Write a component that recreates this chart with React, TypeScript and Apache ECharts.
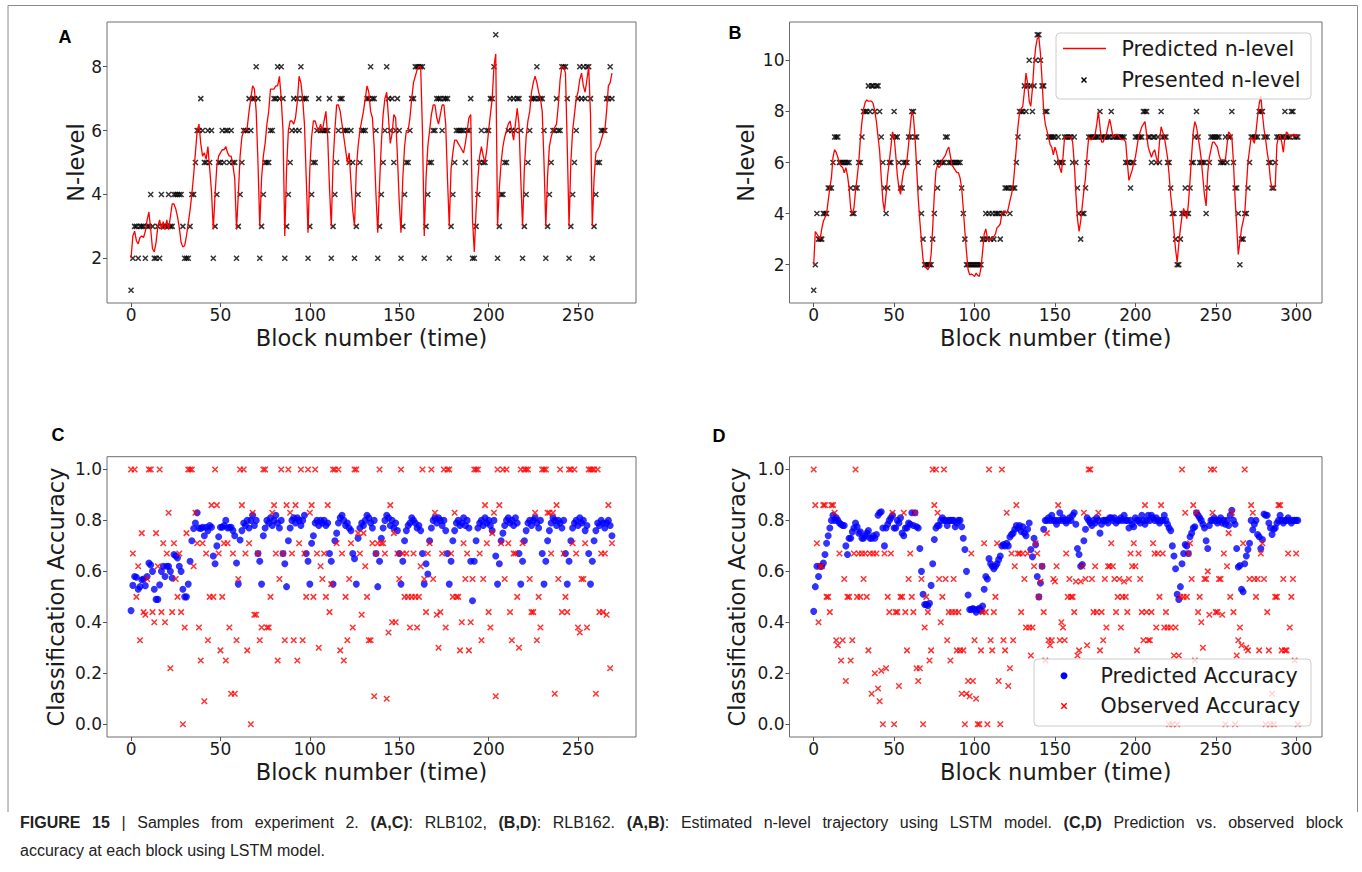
import React, { useEffect, useRef } from "react";
import * as echarts from "echarts";

// ---------- Panel A (RLB102): n-level ----------
const A_presented = [
  1,2,3,3,2,3,3,3,2,3,
  3,4,3,2,2,3,2,4,3,3,
  3,4,3,3,4,4,4,4,4,3,
  2,2,2,3,4,4,5,6,6,7,
  6,5,5,6,5,6,2,3,4,5,
  5,6,5,6,6,5,6,5,5,2,
  3,4,5,6,6,6,7,6,7,7,
  8,7,2,3,4,5,5,5,6,6,
  7,7,8,7,8,7,2,3,4,5,
  6,7,6,7,6,8,7,7,7,2,
  3,4,5,5,6,7,6,6,6,6,
  6,7,2,3,4,5,6,7,7,6,
  6,6,5,6,5,2,3,4,5,6,
  6,6,7,7,8,7,7,6,2,3,
  4,5,6,8,7,6,7,5,6,7,
  6,2,3,4,5,5,6,7,7,8,
  8,8,8,8,2,3,4,5,5,6,
  6,7,7,7,6,7,7,7,2,3,
  4,5,6,6,6,6,6,5,6,6,
  7,2,2,3,4,5,6,5,5,6,
  6,7,7,8,9,2,3,4,4,5,
  5,6,7,6,7,6,7,7,6,2,
  3,4,5,6,7,7,7,8,7,7,
  7,6,2,3,4,5,6,6,7,6,
  6,8,8,8,7,2,3,4,5,6,
  7,8,7,8,7,8,8,7,2,3,
  4,5,5,6,6,6,7,7,8,7,
];
const A_predicted = [
  2.0,2.7,2.85,2.55,2.45,2.65,2.7,2.65,2.85,3.2,
  3.45,2.9,2.3,2.2,2.5,3.0,3.2,2.9,3.15,2.9,
  3.2,2.9,3.3,3.7,3.7,3.55,3.3,2.95,2.5,2.35,
  2.4,2.7,3.1,3.5,4.0,4.6,5.3,6.0,6.2,5.6,
  5.2,5.3,5.1,5.5,4.8,4.1,2.9,4.0,4.9,5.2,
  5.3,5.4,5.4,5.5,5.3,5.2,5.2,4.9,4.5,2.9,
  4.0,5.2,5.8,6.0,6.0,6.1,6.6,7.0,7.4,7.3,
  6.6,5.0,3.0,4.5,5.2,5.6,6.2,6.6,7.3,7.3,
  7.3,7.4,7.4,7.7,7.0,6.0,2.7,4.8,6.0,6.3,
  6.3,6.2,6.4,6.9,7.7,7.5,7.0,6.2,4.5,2.8,
  4.8,5.8,6.3,6.3,6.1,6.0,6.2,6.0,6.3,6.6,
  5.8,4.2,3.0,5.0,6.0,6.8,6.8,6.6,6.2,5.8,
  5.4,5.0,5.3,4.4,3.5,3.0,4.8,5.5,6.0,6.3,
  6.6,7.0,7.4,7.2,6.6,6.4,5.5,4.0,2.8,4.3,
  5.6,6.5,7.0,7.2,6.4,5.6,5.9,6.5,6.4,5.2,
  3.8,2.8,4.5,5.5,6.0,6.0,6.4,7.0,7.5,7.7,
  7.9,8.0,8.0,6.0,2.7,4.5,5.5,6.0,6.5,6.8,
  6.8,6.4,6.2,6.5,6.8,6.8,6.2,4.5,3.0,4.8,
  5.3,5.7,5.7,5.6,5.5,5.4,5.3,5.6,6.0,6.4,
  6.5,3.2,2.2,3.5,4.5,5.2,5.5,5.2,5.0,5.4,
  6.0,6.5,7.0,8.0,8.4,3.0,4.2,5.0,5.5,5.8,
  6.0,6.2,6.3,6.0,5.7,6.2,6.7,6.2,4.5,3.0,
  4.8,5.8,6.3,6.6,7.2,7.5,7.7,7.5,7.2,7.0,
  6.6,5.0,3.0,4.6,5.5,5.8,6.0,6.1,6.2,6.8,
  7.6,8.0,8.0,7.8,5.5,3.0,5.0,6.0,6.5,7.0,
  7.2,7.6,7.8,7.4,7.2,7.6,8.0,6.5,3.0,4.5,
  5.3,5.4,5.5,5.7,5.9,6.0,6.6,7.4,7.5,7.8,
];

// ---------- Panel B (RLB162): n-level ----------
const B_presented = [
  1,2,4,3,3,3,4,4,4,5,
  5,5,6,7,7,7,6,6,6,6,
  6,6,6,5,4,4,5,5,6,6,
  7,8,8,8,9,8,9,9,8,9,
  9,8,7,6,5,4,5,6,6,7,
  8,7,7,6,5,5,6,6,6,7,
  7,8,8,7,7,6,5,4,3,2,
  2,2,2,2,3,4,6,5,6,6,
  6,6,7,7,6,6,6,6,6,6,
  6,6,5,4,3,2,2,2,2,2,
  2,2,2,2,2,3,3,4,3,4,
  3,4,3,4,4,4,3,4,4,5,
  5,5,4,5,5,5,6,7,8,8,
  8,9,8,9,10,9,8,9,10,11,
  11,10,9,9,8,8,7,7,7,7,
  7,6,7,6,6,6,7,7,7,7,
  7,6,7,6,5,4,3,4,4,5,
  6,7,7,7,7,7,7,7,8,7,
  7,7,7,7,7,8,7,7,7,7,
  7,7,7,7,6,6,6,5,6,6,
  7,7,7,7,7,8,8,8,7,7,
  6,7,7,6,7,6,8,7,7,7,
  6,6,5,4,4,3,2,2,3,4,
  4,5,4,4,5,6,6,7,8,7,
  6,6,6,6,4,5,6,7,7,7,
  7,7,7,6,6,6,7,6,7,7,
  8,6,5,5,4,2,3,3,4,4,
  5,6,7,7,7,7,7,8,8,8,
  7,7,7,6,6,5,5,6,7,7,
  7,7,7,8,7,7,7,8,8,7,
  7,7,
];
const B_predicted = [
  2.0,3.3,3.2,3.1,3.0,3.4,3.7,3.85,4.0,4.5,
  5.0,5.4,6.2,6.5,6.4,6.2,6.0,5.85,5.8,5.6,
  5.8,5.5,5.0,4.2,4.0,4.2,4.9,5.4,6.0,6.9,
  7.6,8.1,8.35,8.45,8.4,8.4,8.4,8.3,8.0,7.6,
  7.0,6.45,5.4,4.5,4.1,4.75,5.5,6.05,6.6,7.2,
  7.0,6.3,5.5,5.0,4.75,5.3,5.7,5.8,6.1,6.7,
  7.4,8.0,7.8,7.0,5.8,4.6,3.7,2.9,2.2,1.93,
  1.87,1.8,1.93,2.4,3.45,4.75,5.67,5.9,5.8,5.9,
  6.1,6.2,6.3,6.5,6.6,6.25,5.9,5.8,5.7,5.6,
  5.6,5.4,5.0,4.2,3.3,2.5,1.8,1.6,1.63,1.6,
  1.54,1.67,1.58,1.54,1.87,2.5,3.2,3.4,3.05,2.9,
  3.0,3.05,3.1,3.2,3.45,3.5,3.6,4.0,4.1,4.1,
  4.0,4.2,4.5,4.75,5.1,5.8,6.6,7.4,7.96,8.1,
  8.2,8.8,9.5,9.1,8.4,8.2,8.9,9.86,10.5,10.85,
  10.9,10.25,9.2,8.0,7.5,7.25,7.0,6.7,6.6,6.3,
  6.6,6.4,6.1,5.8,5.6,6.2,7.0,7.0,7.0,7.0,
  7.0,6.8,6.0,4.8,3.8,3.3,3.7,4.3,4.9,5.4,
  6.3,7.0,6.9,6.9,7.0,7.1,7.5,8.0,7.4,6.8,
  6.8,7.0,7.1,7.4,7.7,7.4,7.0,7.0,7.1,7.1,
  7.0,6.9,6.9,6.9,6.8,6.0,5.3,5.5,5.7,6.0,
  6.2,6.6,7.0,7.2,7.4,7.5,7.6,7.1,6.6,6.4,
  6.2,6.4,6.5,6.2,6.0,6.8,7.4,7.2,7.0,6.6,
  6.2,5.5,4.7,4.1,3.3,2.6,2.1,2.8,3.4,3.9,
  4.2,4.0,3.8,4.4,5.3,6.3,7.2,7.6,7.4,7.0,
  6.6,6.1,5.4,4.7,4.3,5.6,6.2,6.5,6.8,6.8,
  6.7,6.6,6.3,6.1,6.1,6.1,6.1,6.7,7.2,7.1,
  7.0,6.0,4.6,3.5,2.4,2.9,3.4,3.7,4.0,5.0,
  6.0,6.5,7.0,6.9,6.75,7.2,7.8,8.3,8.6,7.9,
  7.3,6.9,6.4,6.0,5.3,5.0,5.0,5.1,6.7,7.0,
  7.1,6.8,6.4,7.0,7.2,7.1,7.05,7.0,7.1,7.1,
  7.0,7.1,
];

// ---------- Panel C (RLB102): accuracy ----------
const C_predicted = [
  .446,.545,.58,.577,.53,.54,.567,.57,.544,.58,
  .633,.625,.6,.53,.49,.49,.547,.6,.62,.58,
  .62,.62,.6,.574,.666,.66,.653,.62,.6,.53,
  .5,.5,.55,.64,.72,.768,.79,.83,.77,.768,
  .773,.74,.773,.76,.78,.773,.66,.63,.7,.736,
  .773,.773,.78,.8,.77,.773,.773,.76,.74,.633,
  .55,.723,.76,.79,.78,.8,.77,.8,.82,.78,
  .8,.67,.64,.55,.74,.77,.8,.79,.81,.78,
  .8,.82,.79,.77,.8,.67,.63,.54,.72,.77,
  .8,.81,.79,.81,.8,.78,.8,.82,.67,.64,
  .55,.71,.74,.79,.8,.78,.8,.79,.8,.78,
  .79,.67,.64,.55,.72,.75,.79,.81,.82,.8,
  .78,.79,.77,.76,.67,.65,.55,.73,.77,.79,
  .78,.8,.82,.81,.79,.77,.8,.67,.54,.64,
  .73,.77,.8,.82,.81,.78,.8,.77,.79,.76,
  .67,.55,.64,.72,.76,.78,.79,.81,.8,.79,
  .77,.78,.76,.67,.55,.63,.59,.72,.77,.8,
  .81,.79,.81,.8,.78,.8,.76,.67,.55,.64,
  .72,.76,.79,.8,.78,.79,.81,.78,.8,.77,
  .64,.485,.64,.72,.77,.79,.8,.78,.81,.79,
  .8,.78,.76,.8,.66,.55,.63,.72,.75,.78,
  .8,.81,.79,.8,.78,.81,.79,.67,.55,.64,
  .72,.76,.79,.8,.78,.8,.81,.79,.77,.8,
  .67,.55,.64,.72,.76,.79,.81,.8,.78,.8,
  .79,.77,.8,.67,.55,.64,.72,.77,.79,.8,
  .78,.81,.79,.8,.76,.78,.67,.55,.64,.72,
  .76,.79,.78,.8,.79,.77,.79,.8,.78,.74,
];
const C_observed = [
  1.0,.67,1.0,.5,.62,.33,.75,.44,.43,.57,
  1.0,1.0,.44,.4,.75,.62,1.0,.44,.71,.4,
  .67,.83,.22,.44,.71,.57,.5,.67,.44,0,
  .38,.75,1.0,1.0,1.0,.62,.83,.71,.38,.25,
  .71,.09,.67,.33,.5,.86,.5,1.0,.86,.67,
  .29,.5,.71,.25,.71,.38,.12,.67,.12,.33,
  .57,1.0,.86,1.0,.67,.29,.71,0,.83,.43,
  .43,.67,.33,.38,1.0,1.0,.38,.38,.5,.83,
  .86,.67,.25,.57,1.0,.67,.33,.86,1.0,.83,
  .67,.33,.86,.25,.71,1.0,.33,.67,.5,1.0,
  .83,.86,.5,1.0,.67,.3,.62,.57,.67,.5,
  .86,.44,.55,1.0,1.0,.71,1.0,.29,.67,.25,
  .5,.33,.57,.71,.38,1.0,1.0,.75,.67,.43,
  .75,.62,.5,.33,.33,.71,.11,.67,.71,1.0,
  .71,.71,.67,.1,.36,.86,.4,.75,.4,.67,
  .57,1.0,.67,.5,.67,.5,.38,.5,.67,.5,
  .38,.5,.62,1.0,.57,.44,.67,.71,1.0,.57,
  .83,.43,.3,.44,.67,1.0,.38,1.0,1.0,.67,
  .5,.83,.5,.5,.29,.4,.71,.57,.67,.29,
  .4,.57,1.0,1.0,1.0,.67,.33,.57,.86,.71,
  .44,.38,.75,.83,.11,1.0,.86,.71,1.0,.57,
  1.0,.71,.44,.33,.67,.67,.5,.3,1.0,.71,
  1.0,1.0,1.0,.57,.44,.44,.83,.33,.5,.38,
  1.0,1.0,1.0,.83,.83,.67,.83,.12,.86,.57,
  1.0,.44,.67,.5,.44,1.0,1.0,.71,1.0,.67,
  .38,.36,.57,.57,.71,.38,1.0,1.0,1.0,1.0,
  .12,1.0,.44,.67,.44,.67,.43,.86,.22,.71,
];

// ---------- Panel D (RLB162): accuracy ----------
const D_predicted = [
  .443,.54,.62,.58,.62,.62,.633,.666,.71,.74,
  .77,.8,.82,.8,.81,.8,.79,.785,.78,.78,
  .7,.666,.73,.73,.755,.77,.79,.775,.75,.755,
  .73,.73,.74,.75,.76,.73,.73,.74,.73,.745,
  .82,.83,.834,.77,.7,.77,.785,.8,.81,.82,
  .77,.77,.8,.79,.81,.75,.74,.77,.77,.79,
  .785,.83,.78,.83,.775,.77,.69,.6,.51,.47,
  .47,.465,.475,.545,.63,.725,.77,.78,.78,.8,
  .81,.8,.8,.78,.8,.8,.8,.8,.775,.79,
  .8,.8,.775,.73,.686,.6,.507,.45,.45,.454,
  .45,.44,.45,.455,.446,.464,.53,.58,.57,.65,
  .63,.62,.61,.62,.63,.646,.66,.7,.705,.7,
  .71,.7,.735,.745,.75,.765,.78,.77,.78,.757,
  .775,.75,.74,.765,.79,.686,.657,.73,.705,.58,
  .5,.554,.62,.765,.8,.8,.81,.8,.82,.8,
  .8,.785,.8,.83,.8,.81,.8,.79,.8,.81,
  .8,.82,.83,.785,.69,.666,.62,.627,.72,.765,
  .81,.8,.79,.78,.8,.79,.81,.8,.75,.785,
  .8,.8,.8,.79,.81,.81,.8,.81,.79,.8,
  .8,.81,.8,.82,.8,.8,.77,.8,.785,.775,
  .81,.8,.8,.79,.82,.8,.785,.8,.82,.8,
  .82,.81,.8,.81,.8,.79,.8,.8,.82,.8,
  .785,.77,.76,.7,.66,.61,.51,.49,.54,.63,
  .67,.705,.7,.67,.736,.75,.77,.775,.83,.82,
  .81,.8,.785,.77,.72,.69,.78,.8,.8,.81,
  .8,.79,.8,.81,.79,.8,.785,.8,.78,.82,
  .84,.8,.785,.69,.617,.623,.53,.52,.63,.66,
  .686,.71,.8,.763,.785,.8,.745,.736,.69,.725,
  .825,.82,.82,.79,.77,.745,.765,.77,.79,.8,
  .82,.8,.79,.8,.8,.81,.8,.79,.8,.8,
  .8,.8,
];
const D_observed = [
  1.0,.86,.71,.4,.62,.62,.86,.86,.5,.5,
  .44,.86,.86,.83,.33,.31,.67,.25,.33,.57,
  .17,.5,.5,.25,.33,.67,1.0,.5,.67,.5,
  .67,.57,.67,.5,.29,.67,.12,.67,.2,.67,
  .14,.09,.21,0,.67,.22,.5,.44,.67,.83,
  0,.44,.44,.15,.5,.5,.83,.44,.29,.57,
  .67,.5,.44,.83,.22,.17,.22,.57,0,.38,
  .5,.44,.25,.29,1.0,.86,1.0,.83,.57,.4,
  .5,1.0,.57,.33,.44,.25,.44,.57,.44,.29,
  .44,.29,.12,.29,0,.12,.17,.11,.67,.17,
  .33,.1,0,0,.29,.44,.71,.44,0,1.0,
  .33,.29,.44,.5,.71,.17,0,1.0,.33,.29,
  .83,.15,.22,.67,.33,.62,.86,.67,.67,.44,
  .67,.57,.38,.67,.38,.27,.38,.62,.71,.67,
  .5,.56,.62,.44,.25,.75,.33,.31,.33,.57,
  .56,.62,.86,.33,.4,.38,.33,.67,.5,.57,
  .5,.5,.44,.56,.27,.29,.56,.62,.83,.57,
  .31,1.0,1.0,.57,.44,.62,.44,.83,.29,.44,
  .33,.57,.38,.62,.62,.71,.62,.57,.44,.5,
  .57,.38,.5,.56,.5,.44,.57,.67,.62,.71,
  .62,.29,.67,.57,.44,.33,.86,.44,.33,.33,
  .44,.71,.67,.38,.67,.5,.86,.67,.38,.44,
  .38,0,.38,0,.27,.38,0,.27,.5,1.0,
  .5,.83,.5,.67,.71,.57,.86,.25,.83,.44,
  .5,.4,.3,.57,.57,.6,.43,1.0,.83,1.0,
  .44,.44,.57,.57,.43,.67,0,.62,.75,.5,
  .83,.44,0,.27,.33,.38,.31,.71,1.0,.3,
  .29,.57,.86,.83,.57,.5,.57,.29,.67,.71,
  .57,0,.44,.29,0,.12,0,.5,.5,.86,
  .86,.29,.57,.29,.29,.67,.38,.5,.57,.25,
  .67,0,
];

// ---------- Ticks & labels ----------
const xTicksAC = [0, 50, 100, 150, 200, 250];
const xTicksBD = [0, 50, 100, 150, 200, 250, 300];
const yTicksA = [2, 4, 6, 8];
const yTicksB = [2, 4, 6, 8, 10];
const yTicksAcc = [0, 0.2, 0.4, 0.6, 0.8, 1.0];
const panelLetters = ["A", "B", "C", "D"];
const xTitle = "Block number (time)";
const yTitleN = "N-level";
const yTitleAcc = "Classification Accuracy";
const legendB = ["Predicted n-level", "Presented n-level"];
const legendD = ["Predicted Accuracy", "Observed Accuracy"];
// caption words: [text, bold?] segments per word; line 1 is justified
const captionLine1Words: [string, boolean][][] = [
  [["FIGURE", true]], [["15", true]], [["|", false]], [["Samples", false]], [["from", false]],
  [["experiment", false]], [["2.", false]], [["(A,C)", true], [":", false]], [["RLB102,", false]],
  [["(B,D)", true], [":", false]], [["RLB162.", false]], [["(A,B)", true], [":", false]],
  [["Estimated", false]], [["n-level", false]], [["trajectory", false]], [["using", false]],
  [["LSTM", false]], [["model.", false]], [["(C,D)", true]], [["Prediction", false]],
  [["vs.", false]], [["observed", false]], [["block", false]],
];
const captionLine2 = "accuracy at each block using LSTM model.";

const X_SYMBOL = "path://M0,0L10,10M10,0L0,10";
const TICK_FONT = "DejaVu Sans";
const CAP_FONT = "Liberation Sans";
const CAP_SIZE = 16;
const pts = (arr: number[]) => arr.map((v, i) => [i, v]);

function xMark(cx: number, cy: number, h: number, color: string) {
  return [
    { type: "line", z: 101, shape: { x1: cx - h, y1: cy - h, x2: cx + h, y2: cy + h }, style: { stroke: color, lineWidth: 1.5 } },
    { type: "line", z: 101, shape: { x1: cx + h, y1: cy - h, x2: cx - h, y2: cy + h }, style: { stroke: color, lineWidth: 1.5 } },
  ];
}

function txt(x: number, y: number, text: string, size: number, opts: any = {}) {
  return {
    type: "text",
    z: 101,
    x,
    y,
    rotation: opts.rotation || 0,
    style: {
      text,
      fill: opts.fill || "#1a1a1a",
      fontSize: size,
      fontFamily: opts.family || TICK_FONT,
      fontWeight: opts.weight || "normal",
      align: opts.align || "center",
      textAlign: opts.align || "center",
      verticalAlign: "middle",
      textVerticalAlign: "middle",
      rich: opts.rich,
    },
  };
}

function justifiedCaption(words: [string, boolean][][], x0: number, x1: number, y: number) {
  const ctx = document.createElement("canvas").getContext("2d") as CanvasRenderingContext2D;
  const widthOf = (s: string, bold: boolean) => {
    ctx.font = `${bold ? "bold " : ""}${CAP_SIZE}px "${CAP_FONT}"`;
    return ctx.measureText(s).width;
  };
  const wWidths = words.map((w) => w.reduce((a, [s, b]) => a + widthOf(s, b), 0));
  const total = wWidths.reduce((a, b) => a + b, 0);
  const gap = (x1 - x0 - total) / (words.length - 1);
  const els: any[] = [];
  let x = x0;
  words.forEach((w, i) => {
    const text = w.map(([s, b]) => (b ? `{b|${s}}` : `{n|${s}}`)).join("");
    els.push({
      type: "text", z: 101, x, y,
      style: {
        text, fill: "#222", fontSize: CAP_SIZE, fontFamily: CAP_FONT,
        align: "left", textAlign: "left", verticalAlign: "middle", textVerticalAlign: "middle",
        rich: {
          b: { fontWeight: "bold", fontSize: CAP_SIZE, fontFamily: CAP_FONT, fill: "#222" },
          n: { fontWeight: "normal", fontSize: CAP_SIZE, fontFamily: CAP_FONT, fill: "#222" },
        },
      },
    });
    x += wWidths[i] + gap;
  });
  return els;
}

export default function App() {
  const ref = useRef<HTMLDivElement>(null);
  useEffect(() => {
    if (!ref.current) return;
    const chart = echarts.init(ref.current, undefined, { renderer: "svg" });

    const grids = [
      { left: 107, top: 22, width: 529, height: 281 },
      { left: 789.5, top: 22, width: 532.5, height: 281 },
      { left: 107, top: 456.7, width: 529, height: 280.3 },
      { left: 789.5, top: 456.7, width: 532.5, height: 280.3 },
    ].map((g) => ({ ...g, show: true, borderColor: "#6e6e6e", borderWidth: 1, backgroundColor: "#fff" }));

    const xRanges = [
      [-13.45, 282.45, xTicksAC],
      [-15.05, 316.05, xTicksBD],
      [-13.45, 282.45, xTicksAC],
      [-15.05, 316.05, xTicksBD],
    ] as any[];
    const yRanges = [
      [0.6, 9.4, yTicksA, (v: number) => String(v)],
      [0.5, 11.5, yTicksB, (v: number) => String(v)],
      [-0.05, 1.05, yTicksAcc, (v: number) => v.toFixed(1)],
      [-0.05, 1.05, yTicksAcc, (v: number) => v.toFixed(1)],
    ] as any[];

    const xAxis = xRanges.map((r, i) => ({
      gridIndex: i,
      type: "value",
      position: "bottom",
      min: r[0],
      max: r[1],
      axisLine: { show: false, onZero: false },
      splitLine: { show: false },
      axisTick: { show: true, length: 4, customValues: r[2], lineStyle: { color: "#555" } },
      axisLabel: { customValues: r[2], fontSize: 17, color: "#1a1a1a", margin: 3, fontFamily: TICK_FONT },
    }));
    const yAxis = yRanges.map((r, i) => ({
      gridIndex: i,
      type: "value",
      position: "left",
      min: r[0],
      max: r[1],
      axisLine: { show: false, onZero: false },
      splitLine: { show: false },
      axisTick: { show: true, length: 4, customValues: r[2], lineStyle: { color: "#555" } },
      axisLabel: { customValues: r[2], formatter: r[3], fontSize: 17, color: "#1a1a1a", margin: 5, fontFamily: TICK_FONT },
    }));

    const lineS = (idx: number, data: number[]) => ({
      type: "line", xAxisIndex: idx, yAxisIndex: idx, data: pts(data),
      showSymbol: false, symbol: "none", silent: true,
      lineStyle: { color: "#ff0000", width: 1.3 },
    });
    const xS = (idx: number, data: number[], color: string, size: number) => ({
      type: "scatter", xAxisIndex: idx, yAxisIndex: idx, data: pts(data),
      symbol: X_SYMBOL, symbolSize: size, silent: true,
      itemStyle: { color: "rgba(0,0,0,0)", borderColor: color, borderWidth: 1.5 },
    });
    const dotS = (idx: number, data: number[]) => ({
      type: "scatter", xAxisIndex: idx, yAxisIndex: idx, data: pts(data),
      symbol: "circle", symbolSize: 7, silent: true,
      itemStyle: { color: "#0000ff" },
    });

    const series = [
      lineS(0, A_predicted), xS(0, A_presented, "#000", 5),
      lineS(1, B_predicted), xS(1, B_presented, "#000", 5),
      dotS(2, C_predicted), xS(2, C_observed, "#ff0000", 5.5),
      dotS(3, D_predicted), xS(3, D_observed, "#ff0000", 5.5),
    ];

    const letterPos = [[65, 37], [735, 33], [58, 435], [719, 436]];
    const graphic: any[] = [
      { type: "polyline", z: 100, shape: { points: [[8, 812], [8, 5.5], [1357.5, 5.5], [1357.5, 812]] }, style: { stroke: "#8a8a8a", lineWidth: 1, fill: "none" } },
      ...panelLetters.map((l, i) => txt(letterPos[i][0], letterPos[i][1], l, 18, { family: "Liberation Sans", weight: "bold", fill: "#000" })),
      txt(371.5, 338, xTitle, 22.5),
      txt(1055.8, 338, xTitle, 22.5),
      txt(371.5, 772, xTitle, 22.5),
      txt(1055.8, 772, xTitle, 22.5),
      txt(76, 162.5, yTitleN, 22.5, { rotation: Math.PI / 2 }),
      txt(746, 162.5, yTitleN, 22.5, { rotation: Math.PI / 2 }),
      txt(56, 597, yTitleAcc, 22.5, { rotation: Math.PI / 2 }),
      txt(737, 597, yTitleAcc, 22.5, { rotation: Math.PI / 2 }),
      // legend B
      { type: "rect", z: 100, shape: { x: 1056, y: 33, width: 255, height: 66, r: 4 }, style: { fill: "rgba(255,255,255,0.8)", stroke: "#cccccc", lineWidth: 1 } },
      { type: "line", z: 101, shape: { x1: 1063, y1: 48.5, x2: 1106, y2: 48.5 }, style: { stroke: "#ff0000", lineWidth: 1.4 } },
      ...xMark(1084, 80, 2.5, "#000"),
      txt(1121.5, 48.5, legendB[0], 20.6, { align: "left" }),
      txt(1121.5, 80, legendB[1], 20.6, { align: "left" }),
      // legend D
      { type: "rect", z: 100, shape: { x: 1034, y: 659, width: 277, height: 67, r: 4 }, style: { fill: "rgba(255,255,255,0.8)", stroke: "#cccccc", lineWidth: 1 } },
      { type: "circle", z: 101, shape: { cx: 1064, cy: 675.7, r: 3.5 }, style: { fill: "#0000ff" } },
      ...xMark(1064, 706, 2.7, "#ff0000"),
      txt(1100.5, 675.7, legendD[0], 20.6, { align: "left" }),
      txt(1100.5, 706, legendD[1], 20.6, { align: "left" }),
      // caption
      ...justifiedCaption(captionLine1Words, 20, 1343, 822),
      txt(20, 850, captionLine2, CAP_SIZE, { align: "left", family: CAP_FONT, fill: "#222" }),
    ];

    chart.setOption({
      animation: false,
      backgroundColor: "#ffffff",
      grid: grids,
      xAxis,
      yAxis,
      series,
      graphic,
    });
    return () => chart.dispose();
  }, []);
  return <div ref={ref} style={{ position: "absolute", left: 0, top: 0, width: 1362, height: 872 }} />;
}
